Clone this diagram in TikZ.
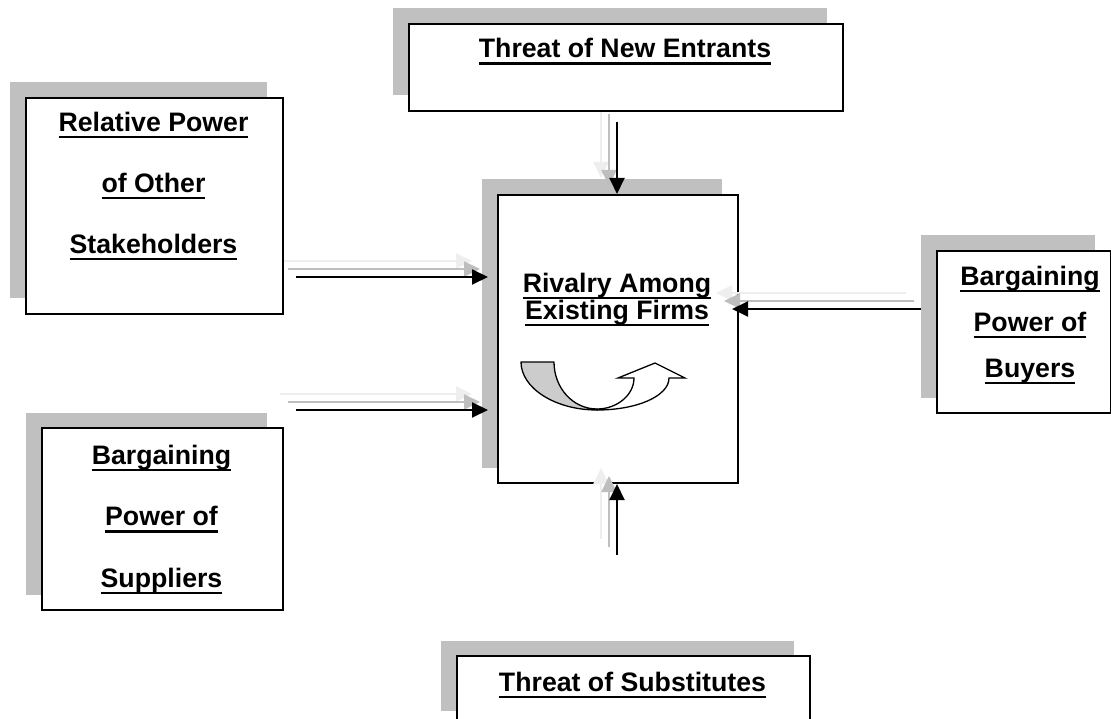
\documentclass[tikz,border=0pt]{standalone}
\usepackage{fontspec}
\setmainfont{Liberation Sans}
\usetikzlibrary{arrows.meta, shadows}
\definecolor{shade}{RGB}{192,192,192}
\definecolor{forcelight}{RGB}{238,238,238}
\definecolor{forcemid}{RGB}{190,190,190}
\definecolor{curlgray}{RGB}{204,204,204}
\newsavebox\ulbox
\newcommand{\ulw}[1]{\sbox\ulbox{#1}\rlap{\rule[-0.26em]{\wd\ulbox}{0.09em}}\usebox\ulbox}

\tikzset{
  forcebox/.style={draw, line width=2pt, fill=white, inner sep=0pt, anchor=north west,
    general shadow={fill=shade, shadow xshift=-16pt, shadow yshift=15.5pt}},
  lbl/.style={font={\bfseries\fontsize{26.7pt}{#1}\selectfont\lineskiplimit=-50pt},
    align=center, inner sep=0pt, anchor=north},
  lbl/.default=30pt,
  force/.style={line width=2pt, -{Triangle[length=16pt,width=15pt]}},
}

\begin{document}
\begin{tikzpicture}[x=1pt, y=-1pt]
  \useasboundingbox (0,0) rectangle (1111,719);
  \fill[white] (0,0) rectangle (1111,719);
  \clip (0,0) rectangle (1111,719);

  % centre box
  \node[forcebox, minimum width=240pt, minimum height=288pt] (riv) at (497,194) {};
  % curved arrow
  \draw[line width=1.3pt, line join=round, fill=curlgray]
    (521,362) -- (554,362) .. controls (554,388) and (573,409) .. (597,409)
    -- (597,410) .. controls (555,410) and (521,388) .. (521,362) -- cycle;
  \draw[line width=1.3pt, line join=miter, fill=white]
    (597,409) .. controls (617,409) and (634,395) .. (634,378) -- (618,378)
    -- (655,363) -- (685,378) -- (669,378)
    .. controls (669,396) and (637,410) .. (597,410) -- cycle;

  % arrow ends
  \coordinate (tRel) at (296,277);
  \coordinate[xshift=-9pt] (hRel) at (tRel -| riv.west);
  \coordinate (tSup) at (296,410);
  \coordinate[xshift=-9pt] (hSup) at (tSup -| riv.west);
  \coordinate (tBuy) at (922,309);
  \coordinate[xshift=-7pt] (hBuy) at (tBuy -| riv.east);
  \coordinate (tNew) at (617,122);
  \coordinate (hNew) at (tNew |- riv.north);
  \coordinate (tSub) at (617,555);
  \coordinate (hSub) at (tSub |- riv.south);

  % arrows with their two shadows
  \foreach \s/\e in {tRel/hRel, tSup/hSup, tBuy/hBuy, tNew/hNew, tSub/hSub} {
    \foreach \d/\c in {16/forcelight, 8/forcemid, 0/black} {
      \draw[force, color=\c] ([shift={(-\d,-\d)}]\s) -- ([shift={(-\d,-\d)}]\e);
    }
  }

  % outer boxes
  \node[forcebox, minimum width=434pt, minimum height=87pt] (new) at (408,23) {};
  \node[forcebox, minimum width=257pt, minimum height=216pt] (rel) at (25,97) {};
  \node[forcebox, minimum width=174pt, minimum height=162pt] (buy) at (936,250) {};
  \node[forcebox, minimum width=241pt, minimum height=182pt] (sup) at (41,427) {};
  \node[forcebox, minimum width=353pt, minimum height=70pt] (sub) at (456,655) {};

  % labels
  \node[lbl] (lblNew) at (625,38.2) {\ulw{Threat of New Entrants}};
  \node[lbl=61pt] (lblRel) at (153.5,111.7) {\ulw{Relative Power}\\\ulw{of Other}\\\ulw{Stakeholders}};
  \node[lbl=27pt] (lblRiv) at (617,272.7) {\ulw{Rivalry Among}\\\ulw{Existing Firms}};
  \node[lbl=46pt] (lblBuy) at (1030,265.7) {\ulw{Bargaining}\\\ulw{Power of}\\\ulw{Buyers}};
  \node[lbl=61.5pt] (lblSup) at (161.5,444.7) {\ulw{Bargaining}\\\ulw{Power of}\\\ulw{Suppliers}};
  \node[lbl] (lblSub) at (632.5,671.7) {\ulw{Threat of Substitutes}};
\end{tikzpicture}
\end{document}
